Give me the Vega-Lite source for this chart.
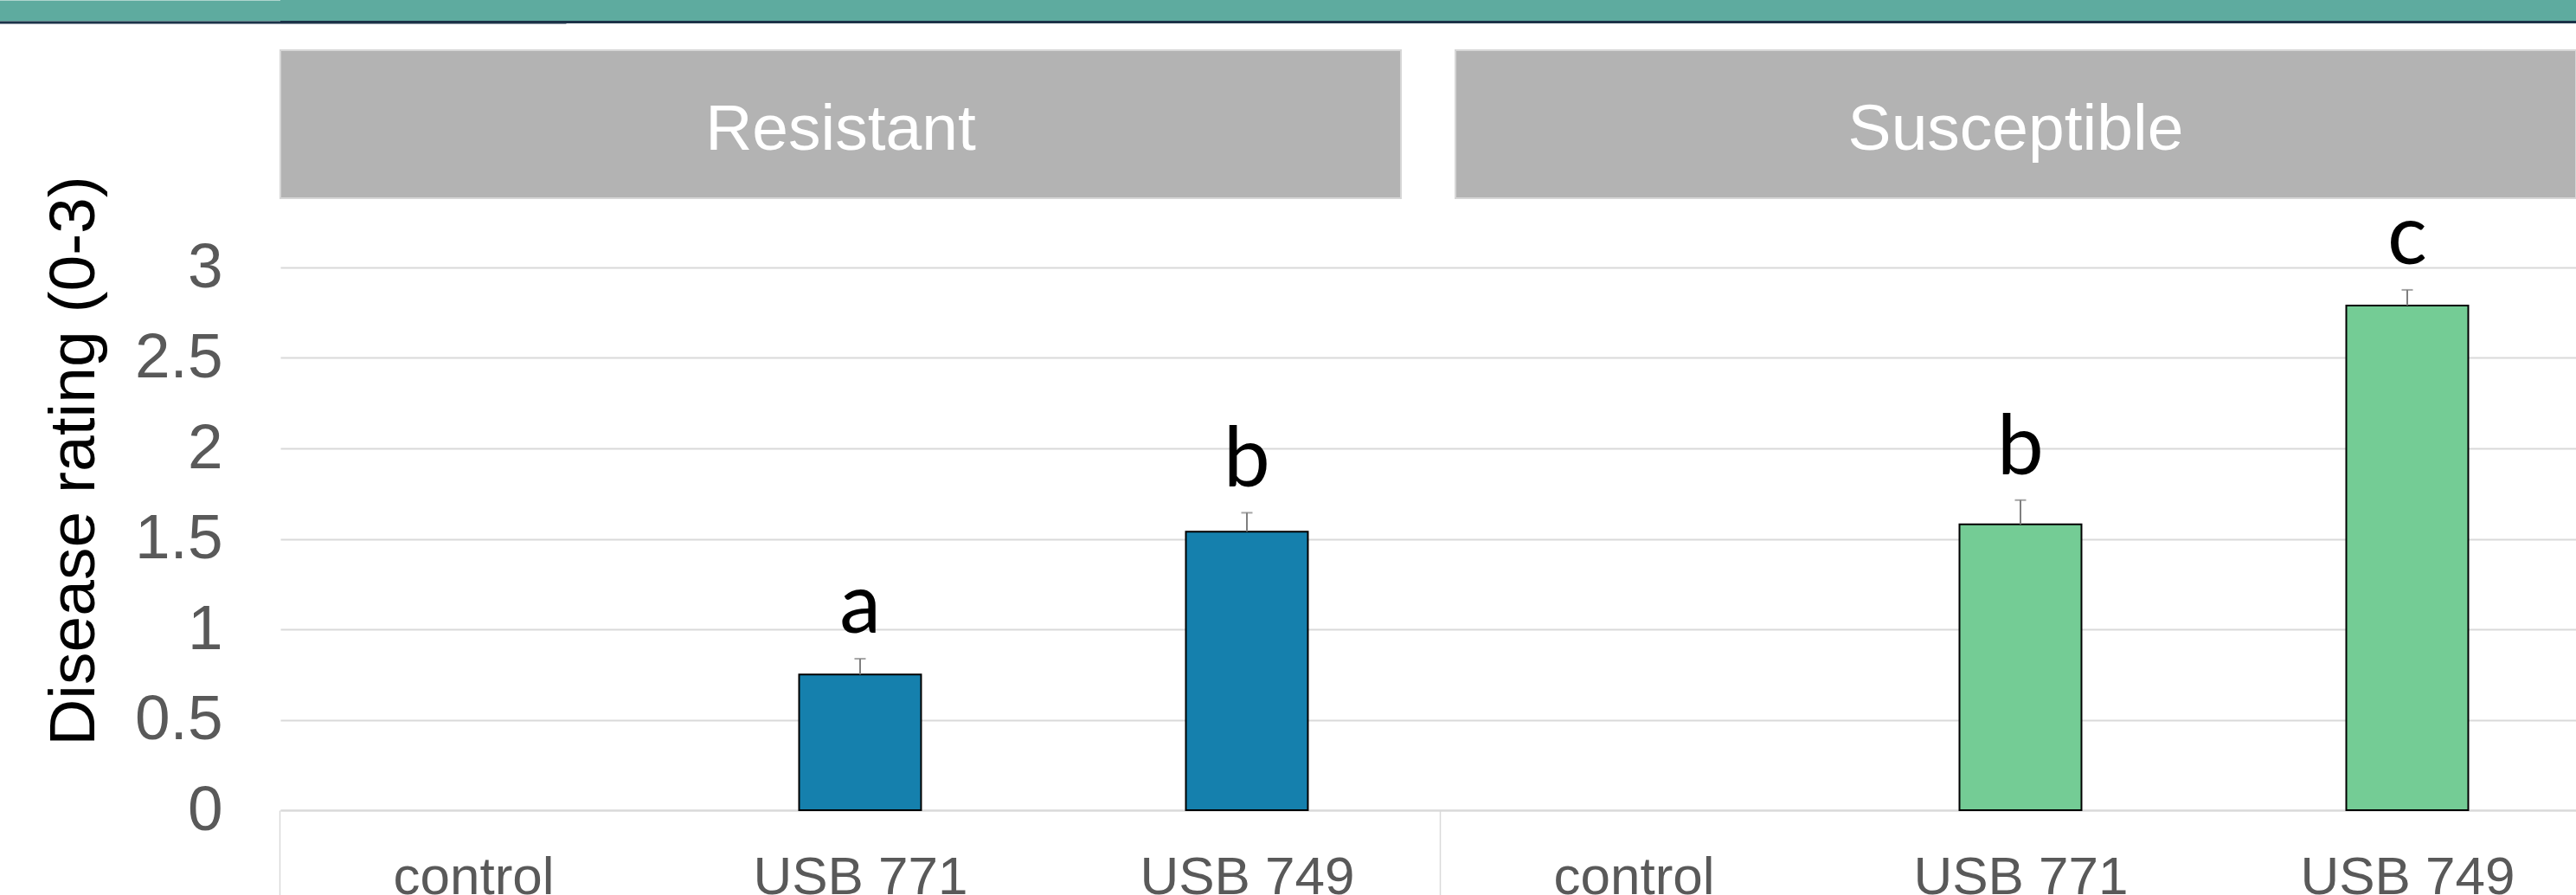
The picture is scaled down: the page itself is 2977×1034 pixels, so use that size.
{
  "$schema": "https://vega.github.io/schema/vega-lite/v6.json",
  "padding": {"left": 48, "top": 0, "right": 0, "bottom": 0},
  "background": "white",
  "spacing": 0,
  "bounds": "flush",
  "config": {"view": {"stroke": null}, "font": "Liberation Sans"},
  "datasets": {
    "ratings": [
      {"group": "Resistant", "treatment": "control", "cat": "Resistant|control", "mean": 0, "upper": 0, "letter": ""},
      {"group": "Resistant", "treatment": "USB 771", "cat": "Resistant|USB 771", "mean": 0.75, "upper": 0.837, "letter": "a"},
      {"group": "Resistant", "treatment": "USB 749", "cat": "Resistant|USB 749", "mean": 1.54, "upper": 1.644, "letter": "b"},
      {"group": "Susceptible", "treatment": "control", "cat": "Susceptible|control", "mean": 0, "upper": 0, "letter": ""},
      {"group": "Susceptible", "treatment": "USB 771", "cat": "Susceptible|USB 771", "mean": 1.58, "upper": 1.714, "letter": "b"},
      {"group": "Susceptible", "treatment": "USB 749", "cat": "Susceptible|USB 749", "mean": 2.79, "upper": 2.876, "letter": "c"}
    ],
    "groups": [{"group": "Resistant"}, {"group": "Susceptible"}],
    "band": [{"level": 0}],
    "empty": []
  },
  "vconcat": [
    {
      "width": 2653, "height": 24,
      "data": {"name": "band"},
      "view": {"fill": "#5eab9f", "stroke": null},
      "mark": {"type": "text", "text": ""},
      "encoding": {
        "y": {"field": "level", "type": "quantitative",
              "axis": {"title": null, "labels": false, "ticks": false, "grid": false,
                       "domainColor": "#5eab9f", "domainWidth": 660}}
      }
    },
    {
      "width": 2653, "height": 3,
      "data": {"name": "band"},
      "view": {"fill": "#1c3349", "stroke": null},
      "mark": {"type": "text", "text": ""},
      "encoding": {
        "y": {"field": "level", "type": "quantitative",
              "axis": {"title": null, "labels": false, "ticks": false, "grid": false,
                       "domainColor": "#1c3349", "domainWidth": 660}}
      }
    },
    {
      "width": 2653, "height": 31,
      "data": {"name": "empty"},
      "mark": {"type": "text"},
      "encoding": {}
    },
    {
      "width": 2653, "height": 171,
      "data": {"name": "groups"},
      "encoding": {
        "x": {"field": "group", "type": "nominal", "scale": {"paddingInner": 0.04639, "paddingOuter": 0}, "axis": null}
      },
      "layer": [
        {"mark": {"type": "rect", "fill": "#b3b3b3", "stroke": "#d6d6d6", "strokeWidth": 2}},
        {"mark": {"type": "text", "color": "white", "font": "Liberation Sans", "fontSize": 75, "baseline": "middle", "dy": 6},
         "encoding": {"text": {"field": "group"}}}
      ]
    },
    {
      "width": 2653, "height": 80,
      "data": {"name": "empty"},
      "mark": {"type": "text"},
      "encoding": {}
    },
    {
      "width": 2653, "height": 627,
      "data": {"name": "ratings"},
      "encoding": {
        "x": {
          "field": "cat", "type": "nominal", "sort": null,
          "scale": {
            "domain": ["Resistant|control", "Resistant|USB 771", "Resistant|USB 749", "Susceptible|control", "Susceptible|USB 771", "Susceptible|USB 749"],
            "paddingInner": 0.6846, "paddingOuter": 0.30985, "align": 0.5505
          },
          "axis": {
            "title": null,
            "labelExpr": "split(datum.value, '|')[1]",
            "labelFont": "Liberation Sans", "labelFontSize": 62, "labelColor": "#595959",
            "labelAngle": 0, "labelLimit": 0, "labelOverlap": false,
            "labelPadding": -63, "labelOffset": 223.5,
            "tickOffset": -223.5, "tickSize": 110, "tickColor": "#d9d9d9", "tickWidth": 1.5,
            "tickOpacity": {"condition": {"test": "indexof(datum.value, 'control') >= 0", "value": 1}, "value": 0},
            "domainColor": "#d9d9d9", "domainWidth": 2,
            "grid": false
          }
        }
      },
      "layer": [
        {
          "transform": [{"filter": "datum.mean > 0"}],
          "mark": {"type": "bar", "stroke": "#000000", "strokeWidth": 2},
          "encoding": {
            "y": {
              "field": "mean", "type": "quantitative",
              "scale": {"domain": [0, 3], "nice": false},
              "axis": {
                "title": "Disease rating (0-3)",
                "values": [0, 0.5, 1, 1.5, 2, 2.5, 3],
                "format": "~g",
                "labelFont": "Liberation Sans", "labelFontSize": 73, "labelColor": "#595959",
                "labelPadding": 67, "ticks": false, "tickSize": 0, "domain": false,
                "grid": true, "gridColor": "#d9d9d9", "gridWidth": 2,
                "titleFont": "Liberation Sans", "titleFontSize": 75, "titleColor": "#000000", "titleFontWeight": "normal",
                "titleAngle": -90, "titleX": -216, "titleY": 223, "titleAlign": "center", "titleBaseline": "alphabetic"
              }
            },
            "fill": {
              "field": "group", "type": "nominal",
              "scale": {"domain": ["Resistant", "Susceptible"], "range": ["#1580ad", "#74cc95"]},
              "legend": null
            }
          }
        },
        {
          "transform": [{"filter": "datum.mean > 0"}],
          "mark": {"type": "rule", "color": "#7f7f7f", "strokeWidth": 2},
          "encoding": {
            "y": {"field": "mean", "type": "quantitative"},
            "y2": {"field": "upper"}
          }
        },
        {
          "transform": [{"filter": "datum.mean > 0"}],
          "mark": {"type": "tick", "color": "#7f7f7f", "size": 13, "thickness": 2, "orient": "horizontal"},
          "encoding": {
            "y": {"field": "upper", "type": "quantitative"}
          }
        },
        {
          "transform": [{"filter": "datum.mean > 0"}],
          "mark": {"type": "text", "font": "Lato", "fontSize": 96, "color": "#000000", "baseline": "alphabetic", "dy": -30},
          "encoding": {
            "y": {"field": "upper", "type": "quantitative"},
            "text": {"field": "letter"}
          }
        }
      ]
    }
  ]
}
